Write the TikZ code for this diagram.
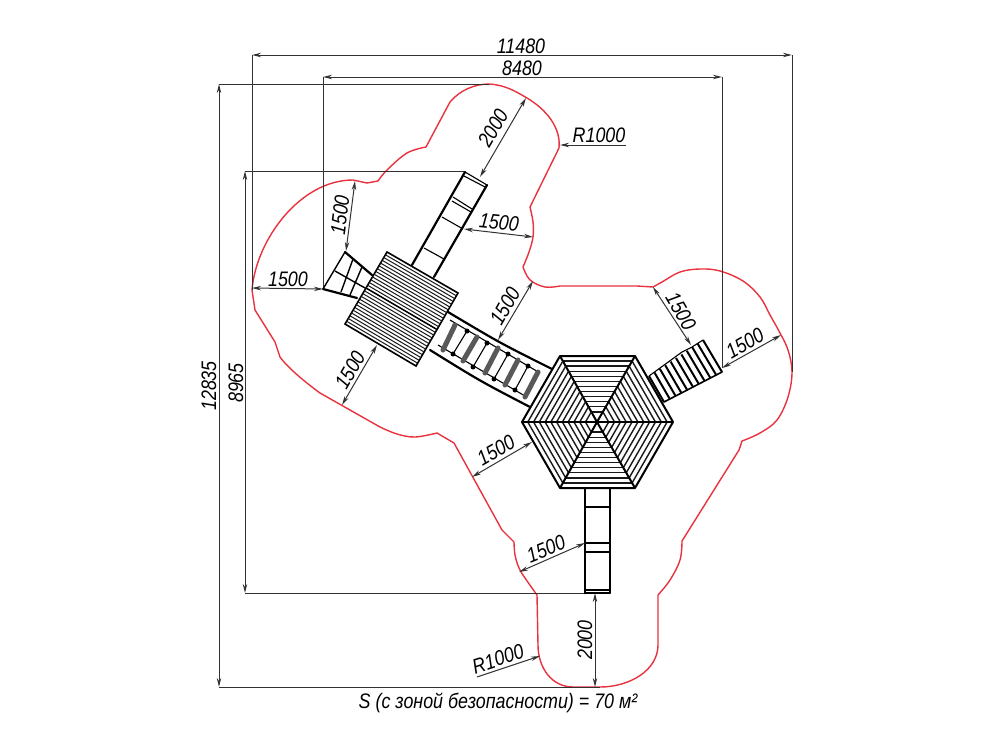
\documentclass[tikz,border=0pt]{standalone}
\usepackage{fontspec}
\newfontfamily\cadfont[FakeStretch=0.85]{Liberation Sans}
\usetikzlibrary{arrows.meta, calc}

\definecolor{zonered}{RGB}{232,50,62}
\definecolor{dimgrey}{RGB}{50,50,50}

\begin{document}
\begin{tikzpicture}[
    x=0.5pt, y=-0.5pt,
    zone/.style={draw=zonered, line width=0.7pt, line join=round},
    extline/.style={draw=dimgrey, line width=0.5pt},
    dimline/.style={draw=dimgrey, line width=0.5pt, {Stealth[length=4.5pt,width=2.2pt]}-{Stealth[length=4.5pt,width=2.2pt]}},
    leader/.style={draw=dimgrey, line width=0.5pt, -{Stealth[length=4.5pt,width=2.2pt]}},
    dimlabel/.style={inner sep=0pt, font=\cadfont\itshape\fontsize{10.5}{12}\selectfont},
    thickline/.style={draw=black, line width=1.1pt, line cap=round},
    thinline/.style={draw=black, line width=0.55pt},
    hatch/.style={draw=black!90, line width=0.5pt},
    tread/.style={draw=black, line width=1pt},
    plank/.style={draw=black!65, line width=2.5pt, line cap=round}
]
    \useasboundingbox (0,0) rectangle (1000,750);

    % Safety zone
    \draw[zone] (489,84) .. controls (505,85) and (515,91) .. (527,98)
        .. controls (547,110) and (561,128) .. (559,148)
        -- (530,207) -- plot[smooth, tension=0.6] coordinates {(530,207) (533,222) (533,237) (529,252) (523,267)}
        -- plot[smooth, tension=0.6] coordinates {(523,267) (530,280) (545,287) (560,286)}
        -- (637,286) -- plot[smooth, tension=0.6] coordinates {(653,287) (662,282) (680,272) (700,269) (720,271) (743,281) (760,297) (770,315) (780,333) (788,350) (792,372) (788,397) (777,420) (760,433) (742,441)}
        -- (739,450) -- (682,541) -- plot[smooth, tension=0.6] coordinates {(682,541) (680,560) (670,580) (658,595)}
        -- (658,645) .. controls (658,670) and (630,687) .. (600,687)
        -- (573,687) .. controls (552,687) and (538,668) .. (538,645)
        -- (537,595) -- plot[smooth, tension=0.6] coordinates {(537,595) (525,578) (519,568) (515,555) (514,542)}
        -- (502,530) -- (454,443) -- (437,433) -- plot[smooth, tension=0.6] coordinates {(437,433) (415,437) (397,434) (380,427)}
        -- (320,393) .. controls (305,382) and (288,368) .. (280,357)
        -- (275,342) -- (255,310) -- (252,290)
        .. controls (256,240) and (300,180) .. (353,180)
        -- (367,183) -- (378,181) -- plot[smooth, tension=0.6] coordinates {(378,181) (387,170) (407,153) (426,147)}
        -- (450,102) .. controls (460,90) and (475,84) .. (489,84);

    % Overall dimensions
    \draw[extline] (252,290) -- (252,55);
    \draw[extline] (792,372) -- (792,55);
    \draw[dimline] (252,55) -- (792,55);
    \draw[extline] (323,289) -- (323,77);
    \draw[extline] (722,368) -- (722,77);
    \draw[dimline] (323,77) -- (722,77);
    \draw[extline] (489,84) -- (219,84);
    \draw[extline] (600,687) -- (219,687);
    \draw[dimline] (219,84) -- (219,687);
    \draw[extline] (465,171) -- (245,171);
    \draw[extline] (597,593) -- (245,593);
    \draw[dimline] (245,171) -- (245,593);
    \node[dimlabel] (width1) at (521,46) {11480};
    \node[dimlabel] (width2) at (522,68) {8480};
    \node[dimlabel, rotate=90] (height1) at (209,386) {12835};
    \node[dimlabel, rotate=90] (height2) at (236,383) {8965};

    % Bridge
    \draw[thickline] (448,312) .. controls (500,343) .. (552,369);
    \draw[thickline] (430,350) .. controls (480,381) .. (530,407);
    \draw[thinline] (450,320) -- (540,373);
    \draw[thinline] (438,345) -- (525,396);
    \foreach \xa/\ya/\xb/\yb in {467/331/453/354, 487/343/473/367, 508/354/494/379, 528/366/515/390} {
        \draw[thinline] (\xa,\ya) -- (\xb,\yb);
        \fill (\xa,\ya) circle (2.5);
        \fill (\xb,\yb) circle (2.5);
    }
    \foreach \xa/\ya/\xb/\yb in {455/325/443/350, 477/337/463/361, 498/348/485/373, 518/360/505/385, 538/372/525/397}
        \draw[plank] (\xa,\ya) -- (\xb,\yb);

    % Left stairs
    \draw[thickline] (345,252) -- (372,275);
    \draw[thickline] (323,289) -- (357,298);
    \draw[thinline, line width=0.7pt] (345,252) -- (323,289);
    \draw[thinline, line width=0.7pt] (335,271) -- (365,288);
    \draw[thinline, line width=0.7pt] (353,259) -- (341,292);
    \draw[thinline, line width=0.7pt] (362,267) -- (350,295);

    % Upper slide
    \draw[thickline] (465,172) -- (412,265);
    \draw[thickline] (487,185) -- (434,277);
    \draw[thinline] (465,172) -- (487,185);
    \foreach \xa/\ya/\xb/\yb in {464/176/485/187, 453/197/472/209, 452/201/471/212, 442/217/463/229, 424/248/444/259}
        \draw[thinline] (\xa,\ya) -- (\xb,\yb);

    % Platform
    \coordinate (plat1) at (387,252);
    \coordinate (plat2) at (458,293);
    \coordinate (plat3) at (416,366);
    \coordinate (plat4) at (345,324);
    \draw[fill=white, line width=0.8pt] (plat1) -- (plat2) -- (plat3) -- (plat4) -- cycle;
    \foreach \t in {1,...,25}
        \draw[hatch] ($(plat1)!\t/26!(plat4)$) -- ($(plat2)!\t/26!(plat3)$);
    \draw[thinline, line width=0.7pt] ($(plat1)!0.5!(plat4)$) -- ($(plat2)!0.5!(plat3)$);

    % Right stairs
    \coordinate (stairA) at (649,376);
    \coordinate (stairB) at (703,340);
    \coordinate (stairC) at (664,402);
    \coordinate (stairD) at (722,372);
    \foreach \t in {0,...,10}
        \draw[tread] ($(stairA)!\t/10!(stairB)$) -- ($(stairC)!\t/10!(stairD)$);
    \draw[thickline, line width=0.8pt] (stairC) -- (stairD);
    \draw[thinline] (stairA) -- (660,368) -- (682,352) -- (692,347) -- (stairB);

    % Lower slide
    \draw[thickline, line width=1.4pt] (585,488) -- (585,593);
    \draw[thickline] (610,488) -- (610,593);
    \draw[thinline, line width=0.7pt] (585,593) -- (610,593);
    \foreach \y in {507,543,552,590}
        \draw[thinline] (585,\y) -- (610,\y);

    % Gazebo
    \coordinate (hexc) at (597,422);
    \coordinate (hex1) at (560,356);
    \coordinate (hex2) at (635,356);
    \coordinate (hex3) at (673,422);
    \coordinate (hex4) at (635,488);
    \coordinate (hex5) at (560,488);
    \coordinate (hex6) at (522,422);
    \draw[fill=white, line width=1pt, line join=round] (hex1) -- (hex2) -- (hex3) -- (hex4) -- (hex5) -- (hex6) -- cycle;
    \foreach \a/\b in {hex1/hex2, hex2/hex3, hex3/hex4, hex4/hex5, hex5/hex6, hex6/hex1} {
        \foreach \t in {2,...,12}
            \draw[hatch, line width=0.7pt] ($(hexc)!\t/13!(\a)$) -- ($(hexc)!\t/13!(\b)$);
        \draw[line width=1pt] (hexc) -- (\a);
    }

    % Clearance dimensions
    \draw[dimline] (526,98) -- (480,177);
    \node[dimlabel, rotate=60] (upper2000) at (493,128) {2000};
    \draw[leader] (626,145) -- (560,145);
    \node[dimlabel] (upperR) at (599,135) {R1000};
    \draw[dimline] (355,181) -- (346,251);
    \node[dimlabel, rotate=83] (stair1500) at (340,215) {1500};
    \draw[dimline] (252,288) -- (323,289);
    \node[dimlabel] (left1500) at (288,279) {1500};
    \draw[dimline] (464,229) -- (533,237);
    \node[dimlabel, rotate=-6] (slide1500) at (499,222) {1500};
    \draw[dimline] (533,281) -- (498,340);
    \node[dimlabel, rotate=60] (bridge1500) at (505,306) {1500};
    \draw[dimline] (377,345) -- (342,405);
    \node[dimlabel, rotate=60] (plat1500) at (350,370) {1500};
    \draw[dimline] (472,477) -- (532,442);
    \node[dimlabel, rotate=30] (hex1500) at (496,450) {1500};
    \draw[dimline] (519,572) -- (585,543);
    \node[dimlabel, rotate=22] (lower1500) at (546,549) {1500};
    \draw[dimline] (595,593) -- (595,687);
    \node[dimlabel, rotate=90] (lower2000) at (585,640) {2000};
    \draw[leader] (477,677) -- (540,656);
    \node[dimlabel, rotate=18] (lowerR) at (498,659) {R1000};
    \draw[dimline] (653,287) -- (691,345);
    \node[dimlabel, rotate=-60] (top1500) at (681,311) {1500};
    \draw[dimline] (722,368) -- (781,335);
    \node[dimlabel, rotate=30] (right1500) at (745,343) {1500};

    \node[dimlabel] (area) at (498,703) {S (с зоной безопасности) = 70 м²};
\end{tikzpicture}
\end{document}
